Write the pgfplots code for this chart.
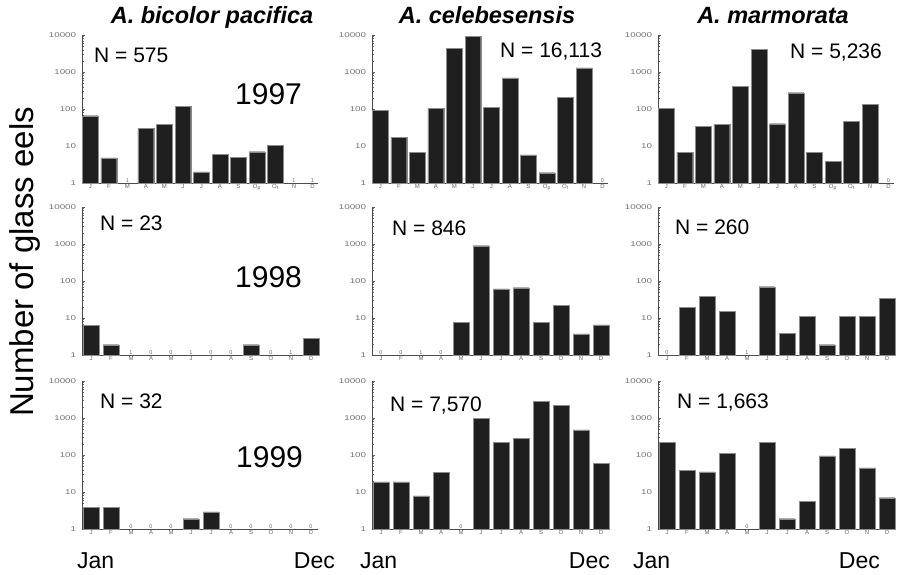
\documentclass[border=0pt]{standalone}
\usepackage{fontspec}
\setmainfont{Liberation Sans}
\usepackage{pgfplots}
\pgfplotsset{compat=1.18}

% common panel: #1 x, #2 y, #3 extra axis options, #4 body
\newcommand{\eelaxis}[4]{%
\begin{axis}[
    scale only axis, width=236pt, height=148pt,
    ymode=log, ymin=1, ymax=10000,
    axis x line*=bottom, axis y line*=left,
    axis line style={black!70, line width=0.6pt},
    ytick={1,10,100,1000,10000},
    yticklabels={1,10,100,1000,10000},
    minor ytick={2,3,4,5,6,7,8,9,20,30,40,50,60,70,80,90,200,300,400,500,600,700,800,900,2000,3000,4000,5000,6000,7000,8000,9000},
    major tick length=2.5pt, minor tick length=1.5pt,
    tick style={black!60, line width=0.4pt},
    yticklabel style={font=\fontsize{7}{7}\selectfont, text=black!55, xscale=1.4, inner sep=1pt, xshift=-3pt},
    xticklabel style={font=\fontsize{6}{6}\selectfont, text=black!60, inner sep=1pt},
    clip=false,
    at={(#1,#2)}, anchor=south west, #3]
#4
\end{axis}}

\newcommand{\zl}[2]{\node[anchor=south, font=\fontsize{5.5}{5.5}\selectfont, text=black!60, inner sep=0.5pt] at (axis cs:#1,1) {#2};}

\begin{document}
\begin{tikzpicture}
\useasboundingbox (0,0) rectangle (911pt,-575pt);

% ---- 1997 ----
\eelaxis{82pt}{-183pt}{xmin=-0.45, xmax=12.3, xtick={0,...,12}, major x tick style={draw=none},
    xticklabels={J,F,M,A,M,J,J,A,S,O\textsubscript{p},O\textsubscript{t},N,D}}{%
  \addplot[ybar, bar width=0.85, fill=black!88, draw=black!45, line width=0.3pt]
    coordinates {(0,66) (1,4.8) (3,30) (4,39) (5,116) (6,2) (7,5.9) (8,5) (9,7) (10,10.6)};
  \zl{2}{1}\zl{11}{1}\zl{12}{1}}
\eelaxis{372pt}{-183pt}{xmin=-0.45, xmax=12.3, xtick={0,...,12}, major x tick style={draw=none},
    xticklabels={J,F,M,A,M,J,J,A,S,O\textsubscript{p},O\textsubscript{t},N,D}}{%
  \addplot[ybar, bar width=0.85, fill=black!88, draw=black!45, line width=0.3pt]
    coordinates {(0,92) (1,17) (2,6.7) (3,104) (4,4450) (5,9200) (6,111) (7,690) (8,5.8) (9,1.9) (10,207) (11,1290)};
  \zl{12}{0}}
\eelaxis{658pt}{-183pt}{xmin=-0.45, xmax=12.3, xtick={0,...,12}, major x tick style={draw=none},
    xticklabels={J,F,M,A,M,J,J,A,S,O\textsubscript{p},O\textsubscript{t},N,D}}{%
  \addplot[ybar, bar width=0.85, fill=black!88, draw=black!45, line width=0.3pt]
    coordinates {(0,103) (1,6.8) (2,34) (3,39) (4,415) (5,4170) (6,40) (7,275) (8,6.8) (9,3.9) (10,47) (11,135)};
  \zl{12}{0}}

% ---- 1998 ----
\eelaxis{82pt}{-355pt}{xmin=-0.45, xmax=11.35, xtick={0,...,11}, major x tick style={draw=none},
    xticklabels={J,F,M,A,M,J,J,A,S,O,N,D}}{%
  \addplot[ybar, bar width=0.78, fill=black!88, draw=black!45, line width=0.3pt]
    coordinates {(0,6.3) (1,1.9) (8,1.9) (11,2.8)};
  \zl{2}{1}\zl{3}{0}\zl{4}{0}\zl{5}{1}\zl{6}{0}\zl{7}{0}\zl{9}{0}\zl{10}{1}}
\eelaxis{372pt}{-355pt}{xmin=-0.45, xmax=11.35, xtick={0,...,11}, major x tick style={draw=none},
    xticklabels={J,F,M,A,M,J,J,A,S,O,N,D}}{%
  \addplot[ybar, bar width=0.78, fill=black!88, draw=black!45, line width=0.3pt]
    coordinates {(4,7.5) (5,900) (6,61) (7,66) (8,7.5) (9,22) (10,3.7) (11,6.5)};
  \zl{0}{0}\zl{1}{0}\zl{2}{1}\zl{3}{0}}
\eelaxis{658pt}{-355pt}{xmin=-0.45, xmax=11.35, xtick={0,...,11}, major x tick style={draw=none},
    xticklabels={J,F,M,A,M,J,J,A,S,O,N,D}}{%
  \addplot[ybar, bar width=0.78, fill=black!88, draw=black!45, line width=0.3pt]
    coordinates {(1,19.5) (2,38) (3,15) (5,70) (6,3.8) (7,11) (8,1.9) (9,11) (10,11) (11,34)};
  \zl{0}{0}\zl{4}{1}}

% ---- 1999 ----
\eelaxis{82pt}{-529pt}{xmin=-0.45, xmax=11.35, xtick={0,...,11}, major x tick style={draw=none},
    xticklabels={J,F,M,A,M,J,J,A,S,O,N,D}}{%
  \addplot[ybar, bar width=0.78, fill=black!88, draw=black!45, line width=0.3pt]
    coordinates {(0,3.8) (1,3.9) (5,1.9) (6,2.9)};
  \zl{2}{0}\zl{3}{0}\zl{4}{0}\zl{7}{0}\zl{8}{0}\zl{9}{0}\zl{10}{0}\zl{11}{0}}
\eelaxis{372pt}{-529pt}{xmin=-0.45, xmax=11.35, xtick={0,...,11}, major x tick style={draw=none},
    xticklabels={J,F,M,A,M,J,J,A,S,O,N,D}}{%
  \addplot[ybar, bar width=0.78, fill=black!88, draw=black!45, line width=0.3pt]
    coordinates {(0,18.7) (1,18.7) (2,7.8) (3,34) (5,1000) (6,217) (7,285) (8,2830) (9,2220) (10,480) (11,59)};
  \zl{4}{0}}
\eelaxis{658pt}{-529pt}{xmin=-0.45, xmax=11.35, xtick={0,...,11}, major x tick style={draw=none},
    xticklabels={J,F,M,A,M,J,J,A,S,O,N,D}}{%
  \addplot[ybar, bar width=0.78, fill=black!88, draw=black!45, line width=0.3pt]
    coordinates {(0,222) (1,39) (2,35) (3,111) (5,217) (6,1.9) (7,5.7) (8,94) (9,152) (10,45) (11,7)};
  \zl{4}{0}}

% ---- titles ----
\begin{scope}[every node/.style={anchor=base, font=\fontsize{23.5}{24}\selectfont\bfseries\itshape, inner sep=0pt}]
  \node at (212pt,-24pt) {A. bicolor pacifica};
  \node at (487pt,-24pt) {A. celebesensis};
  \node at (773pt,-24pt) {A. marmorata};
\end{scope}

% ---- y label ----
\node[rotate=90, anchor=base, inner sep=0pt, font=\fontsize{33}{33}\selectfont] at (33pt,-262pt) {Number of glass eels};

% ---- years ----
\begin{scope}[every node/.style={anchor=base west, inner sep=0pt, font=\fontsize{30}{30}\selectfont}]
  \node at (235pt,-105pt) {1997};
  \node at (235pt,-287pt) {1998};
  \node at (236pt,-467pt) {1999};
\end{scope}

% ---- N labels ----
\begin{scope}[every node/.style={anchor=base west, inner sep=0pt, font=\fontsize{21}{21}\selectfont}]
  \node at (94pt,-63pt) {N = 575};
  \node at (500pt,-58pt) {N = 16,113};
  \node at (790pt,-59pt) {N = 5,236};
  \node at (100pt,-230pt) {N = 23};
  \node at (392pt,-235pt) {N = 846};
  \node at (675pt,-234pt) {N = 260};
  \node at (100pt,-408pt) {N = 32};
  \node at (390pt,-411pt) {N = 7,570};
  \node at (677pt,-408pt) {N = 1,663};
\end{scope}

% ---- Jan / Dec ----
\begin{scope}[every node/.style={inner sep=0pt, font=\fontsize{23}{23}\selectfont}]
  \node[anchor=base west] at (77pt,-568pt) {Jan};
  \node[anchor=base east] at (335pt,-568pt) {Dec};
  \node[anchor=base west] at (360pt,-568pt) {Jan};
  \node[anchor=base east] at (610pt,-568pt) {Dec};
  \node[anchor=base west] at (633pt,-568pt) {Jan};
  \node[anchor=base east] at (880pt,-568pt) {Dec};
\end{scope}
\end{tikzpicture}
\end{document}
